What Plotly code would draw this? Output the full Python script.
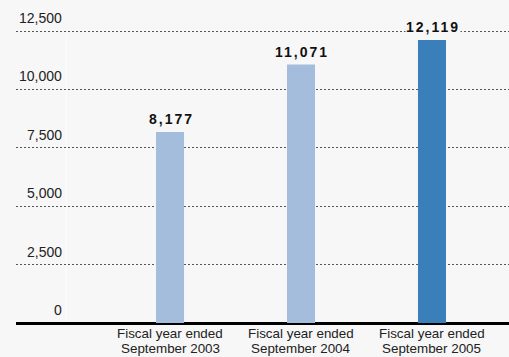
import plotly.graph_objects as go

# Data
categories = ["Fiscal year ended\nSeptember 2003",
              "Fiscal year ended\nSeptember 2004",
              "Fiscal year ended\nSeptember 2005"]
values = [8177, 11071, 12119]
bar_colors = ["#a4bddc", "#a4bddc", "#3a7fba"]
y_ticks = [0, 2500, 5000, 7500, 10000, 12500]

BG = "#f7f7f7"
FONT = "Liberation Sans, Arial, Helvetica, sans-serif"

W, H = 509, 357
ML, MR, MT, MB = 16, 0, 0, 34
plot_w = W - ML - MR

fig = go.Figure()
fig.add_trace(go.Bar(
    x=categories,
    y=values,
    marker=dict(color=bar_colors, line=dict(width=0)),
    width=0.214,
    hoverinfo="skip",
))

annotations = []

# value labels above each bar
for cat, v in zip(categories, values):
    annotations.append(dict(
        x=cat, y=v, xref="x", yref="y",
        text=f'<span style="letter-spacing:2px">{v:,}</span>',
        showarrow=False, yanchor="middle", xanchor="center",
        yshift=12.5, xshift=1,
        font=dict(family=FONT, size=14, color="#111111", weight="bold"),
        bgcolor=BG, borderpad=0,
    ))

# y tick labels sit just above their gridlines
label_right = (63 - ML) / plot_w
for t in y_ticks:
    annotations.append(dict(
        x=label_right, y=t, xref="paper", yref="y",
        text=f"{t:,}", showarrow=False,
        xanchor="right", yanchor="middle", yshift=13,
        font=dict(family=FONT, size=14, color="#222222"),
        borderpad=0,
    ))

# two-line category labels under the axis, one annotation per line
for cat in categories:
    for i, line in enumerate(cat.split("\n")):
        annotations.append(dict(
            x=cat, y=0, xref="x", yref="y",
            text=line, showarrow=False,
            xanchor="center", yanchor="middle", yshift=-10 - 15 * i,
            font=dict(family=FONT, size=13.4, color="#222222"),
            borderpad=0,
        ))

shapes = [
    # faint light divider next to the tick labels
    dict(type="line", xref="paper", yref="y",
         x0=(66 - ML) / plot_w, x1=(66 - ML) / plot_w, y0=0, y1=12400,
         line=dict(color="#fcfcfc", width=1), layer="below"),
]

fig.update_layout(
    width=W, height=H,
    margin=dict(l=ML, r=MR, t=MT, b=MB),
    paper_bgcolor=BG, plot_bgcolor=BG,
    showlegend=False,
    annotations=annotations,
    shapes=shapes,
    xaxis=dict(
        type="category",
        range=[-1.176, 2.588],
        showticklabels=False, showgrid=False, zeroline=False,
        showline=False, ticks="",
        fixedrange=True,
    ),
    yaxis=dict(
        range=[0, 13827],
        tickvals=y_ticks,
        showticklabels=False,
        showgrid=True, gridcolor="#555555", gridwidth=1, griddash="2px,2px",
        zeroline=True, zerolinecolor="#000000", zerolinewidth=2.5,
        showline=False, ticks="",
        fixedrange=True,
    ),
)

fig.write_html("out.html", config={"displayModeBar": False})
